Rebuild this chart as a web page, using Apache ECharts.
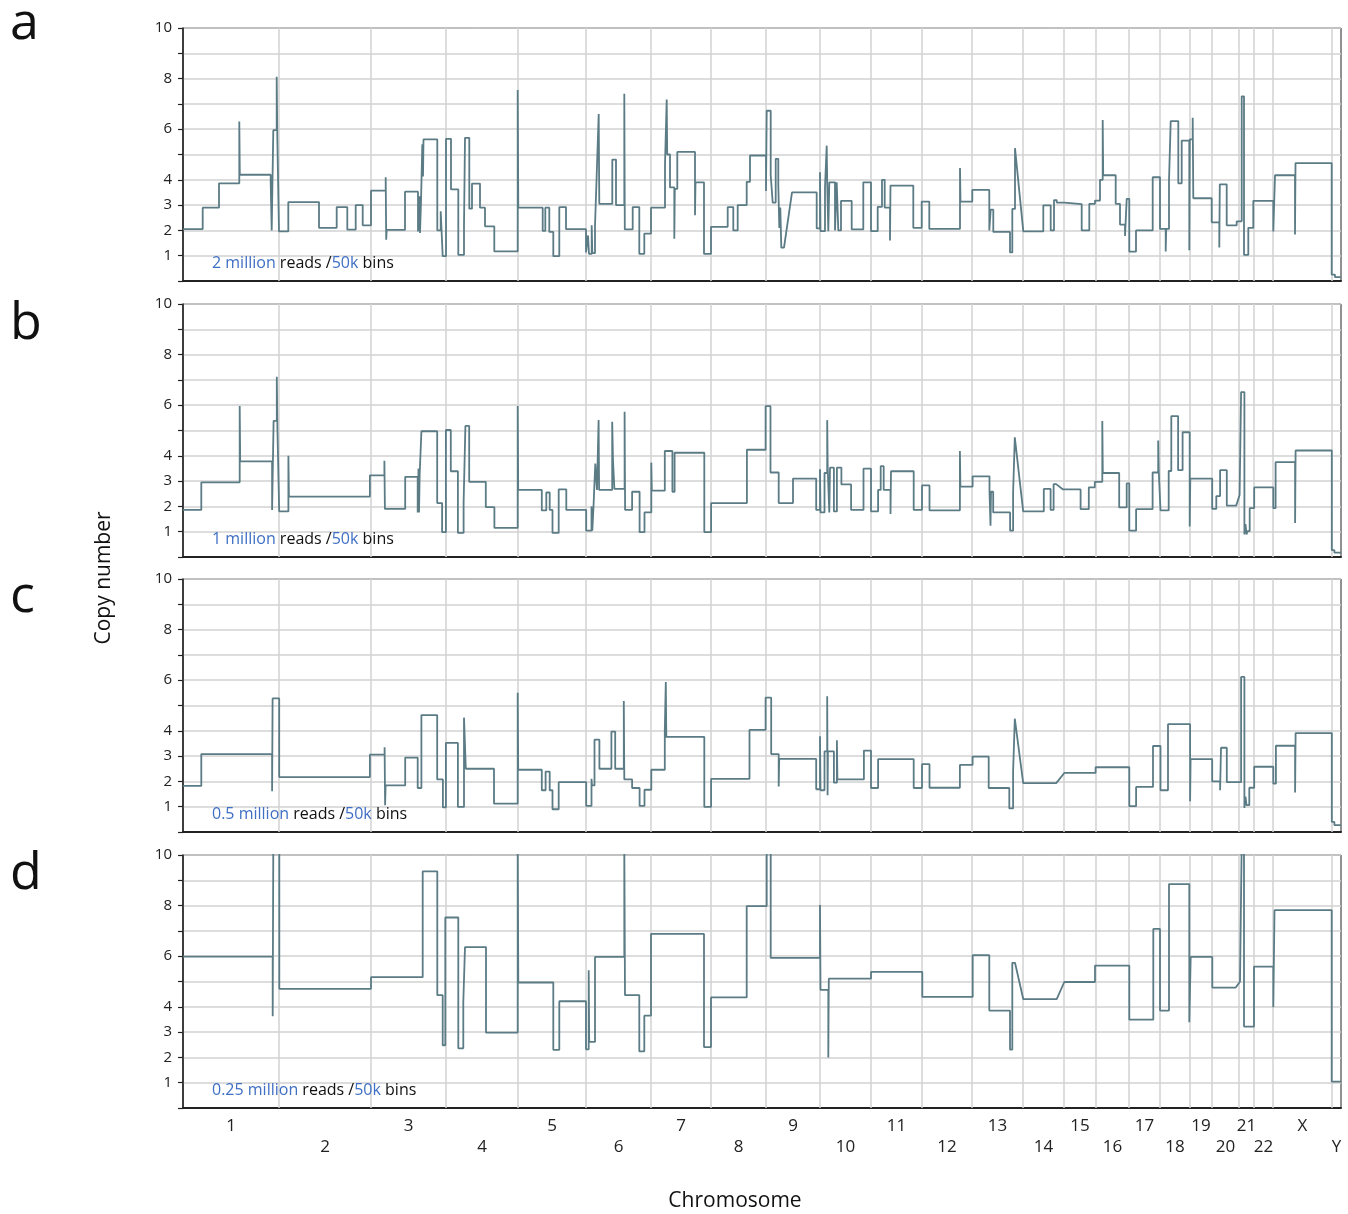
<!DOCTYPE html>
<html>
<head>
<meta charset="utf-8">
<script src="https://cdn.jsdelivr.net/npm/echarts@6/dist/echarts.min.js"></script>
<style>
  html, body { margin: 0; padding: 0; background: #fff; }
  #chart { width: 1348px; height: 1214px; }
</style>
</head>
<body>
<div id="chart"></div>
<script>
// chromosome layout (position units along the genome axis)
const chromNames = ["1","2","3","4","5","6","7","8","9","10","11","12","13","14","15","16","17","18","19","20","21","22","X","Y"];
const chromBounds = [0, 96, 188, 263, 335, 403, 468, 528, 583, 637, 688, 739, 789, 840, 881, 913, 946, 977, 1007, 1029, 1056, 1071, 1090, 1149, 1158];
const genomeEnd = 1158;

// y axis ticks that carry a label
const yLabelTicks = [1, 2, 3, 4, 6, 8, 10];

// panel annotations
const panelLetters = ["a", "b", "c", "d"];
const readDepths = ["2 million", "1 million", "0.5 million", "0.25 million"];
const binSize = "50k";

// segments: [start, end, copy number]
const segA = [
  [0, 19.7, 2.05], [19.7, 36, 2.9], [36, 56.3, 3.86], [56.3, 56.8, 6.3], [56.8, 87.7, 4.2], [87.7, 88.7, 3.86], [88.7, 90.3, 2.0], [90.3, 93.7, 5.96], [93.7, 94.3, 8.07], [94.3, 96, 5.7],
  [96, 105.3, 1.96], [105.3, 136, 3.12], [136, 153.7, 2.1], [153.7, 164.3, 2.92], [164.3, 172.7, 2.03], [172.7, 179.7, 3.0], [179.7, 188, 2.2],
  [188, 202.7, 3.57], [202.7, 203.2, 4.1], [203.2, 203.7, 1.63], [203.7, 222, 2.02], [222, 235, 3.53], [235, 236.5, 1.96], [236.5, 237, 3.35], [237, 238, 1.9], [238, 239.3, 3.1], [239.3, 240, 5.4], [240, 240.5, 4.13], [240.5, 254.3, 5.6], [254.3, 257.7, 2.0], [257.7, 259.7, 2.76], [259.7, 263, 0.98],
  [263, 268, 5.62], [268, 275.3, 3.62], [275.3, 281, 1.03], [281, 282, 2.2], [282, 286.3, 5.66], [286.3, 289, 2.86], [289, 297, 3.85], [297, 302, 2.9], [302, 311.3, 2.16], [311.3, 334.7, 1.17],
  [334.7, 335.3, 7.55], [335.3, 359.7, 2.9], [359.7, 362.3, 1.98], [362.3, 366.3, 2.9], [366.3, 370.3, 1.94], [370.3, 376.3, 0.98], [376.3, 383, 2.92], [383, 403, 2.05],
  [403, 405, 1.13], [405, 406, 1.8], [406, 408.7, 1.07], [408.7, 409.3, 2.2], [409.3, 412, 1.1], [412, 413.7, 2.17], [413.7, 415.7, 4.2], [415.7, 416.3, 6.6], [416.3, 429.3, 3.05], [429.3, 433, 4.8], [433, 441.3, 3.0], [441.3, 441.8, 7.4], [441.8, 449.7, 2.04], [449.7, 456.3, 2.92], [456.3, 461.3, 1.07], [461.3, 468, 1.87],
  [468, 482, 2.9], [482, 483.7, 4.6], [483.7, 484.2, 7.17], [484.2, 487, 5.0], [487, 491.3, 3.7], [491.3, 491.8, 1.67], [491.8, 494.3, 3.64], [494.3, 512, 5.1], [512, 512.5, 2.6], [512.5, 521, 3.9], [521, 528, 1.07],
  [528, 544.7, 2.14], [544.7, 550.3, 2.92], [550.3, 554.7, 2.0], [554.7, 563.7, 3.0], [563.7, 567, 3.92], [567, 583, 4.96],
  [583, 583.7, 3.56], [583.7, 587.7, 6.73], [587.7, 589.7, 4.18], [589.7, 592.7, 3.1], [592.7, 595.3, 4.83], [595.3, 596.3, 3.8], [596.3, 597.3, 2.1], [597.3, 598.3, 2.9], [598.3, 601, 1.32],
  [609, 633.7, 3.5], [633.7, 637, 2.08],
  [637, 637.5, 4.3], [637.5, 642, 1.97], [642, 643.7, 3.7], [643.7, 644.2, 5.35], [644.2, 645.3, 3.9], [645.3, 646.3, 1.97], [646.3, 652, 3.9], [652, 653.7, 2.0], [653.7, 655.3, 3.9], [655.3, 658, 2.0], [658, 668.7, 3.17], [668.7, 680.3, 2.04], [680.3, 688, 3.9],
  [688, 694.7, 1.97], [694.7, 699, 2.93], [699, 701.7, 4.0], [701.7, 707, 2.9], [707, 707.5, 1.6], [707.5, 730.3, 3.77], [730.3, 738.7, 2.1],
  [738.7, 746.3, 3.14], [746.3, 777, 2.06], [777, 777.5, 4.47], [777.5, 789.3, 3.14],
  [789.3, 806.3, 3.6], [806.3, 807.7, 2.0], [807.7, 810.3, 2.82], [810.3, 827, 1.94], [827, 829.3, 1.13], [829.3, 832, 2.85], [832, 833, 5.25],
  [840.3, 860.3, 1.96], [860.3, 867.7, 2.99], [867.7, 871, 2.0], [871, 873.7, 3.2], [873.7, 881.3, 3.1],
  [881.3, 898.7, 3.04], [898.7, 906.3, 2.0], [906.3, 912, 3.05],
  [912, 917, 3.18], [917, 919.7, 4.0], [919.7, 920.2, 6.36], [920.2, 932.7, 4.18], [932.7, 937, 3.05], [937, 942, 2.23], [942, 943.7, 1.78], [943.7, 946.3, 3.25],
  [946.3, 953, 1.16], [953, 969.7, 2.0], [969.7, 977, 4.1],
  [977, 982.7, 2.06], [982.7, 983.2, 1.17], [983.2, 986, 2.06], [986, 987.7, 3.95], [987.7, 995.3, 6.32], [995.3, 998.7, 3.86], [998.7, 1006.3, 5.55],
  [1006.3, 1006.8, 1.22], [1006.8, 1009.7, 5.6], [1009.7, 1010.3, 6.45], [1010.3, 1028.7, 3.27],
  [1028.7, 1036.3, 2.32], [1036.3, 1036.8, 1.32], [1036.8, 1043.7, 3.82], [1043.7, 1053.7, 2.2], [1053.7, 1058.7, 2.36],
  [1058.7, 1061, 7.3], [1061, 1065.3, 1.03], [1065.3, 1070.3, 2.1],
  [1070.3, 1090.3, 3.17],
  [1090.3, 1092, 1.96], [1092, 1112, 4.18], [1112, 1112.5, 1.84], [1112.5, 1148.7, 4.66],
  [1148.7, 1152, 0.25], [1152, 1158, 0.15]
];

const segB = [
  [0, 18.3, 1.86], [18.3, 56.7, 2.95], [56.7, 57.2, 5.97], [57.2, 89.1, 3.78], [89.1, 90.6, 1.86], [90.6, 93.8, 5.38], [93.8, 94.4, 7.12], [94.4, 96.2, 5.08],
  [96.2, 105.4, 1.8], [105.4, 105.9, 4.0], [105.9, 186.9, 2.39],
  [186.9, 201.4, 3.23], [201.4, 201.9, 3.8], [201.9, 222.2, 1.9], [222.2, 234.7, 3.17], [234.7, 235.5, 1.76], [235.5, 236, 3.5], [236, 236.7, 1.76], [236.7, 238.4, 3.3], [238.4, 254.2, 4.97], [254.2, 259.1, 2.13], [259.1, 262.9, 0.98],
  [262.9, 267.8, 5.02], [267.8, 274.9, 3.39], [274.9, 280.6, 0.95], [280.6, 282.4, 2.13], [282.4, 286.2, 5.18], [286.2, 302.8, 2.97], [302.8, 311.4, 1.97], [311.4, 334.7, 1.15],
  [334.7, 335.2, 5.97], [335.2, 358.8, 2.65], [358.8, 363.3, 1.84], [363.3, 366.7, 2.55], [366.7, 369.5, 1.86], [369.5, 375.7, 0.95], [375.7, 383.3, 2.67], [383.3, 403.2, 1.86],
  [403.2, 408.5, 1.04], [408.5, 409.3, 2.0], [409.3, 410.4, 1.04], [410.4, 412.3, 1.9], [412.3, 414, 3.69], [414, 415.6, 2.65], [415.6, 416.1, 5.41], [416.1, 429.2, 2.65], [429.2, 430, 5.35], [430, 431.4, 3.82], [431.4, 441.6, 2.69], [441.6, 442.1, 5.74], [442.1, 449.1, 1.86], [449.1, 456.6, 2.58], [456.6, 461.5, 0.98], [461.5, 468.3, 1.76],
  [468.3, 468.8, 3.73], [468.8, 481.8, 2.62], [481.8, 489.4, 4.19], [489.4, 491.6, 2.58], [491.6, 521.3, 4.12], [521.3, 528.1, 0.98],
  [528.1, 563.9, 2.13], [563.9, 582.6, 4.24],
  [582.6, 587.5, 5.96], [587.5, 595.7, 3.34], [595.7, 610, 2.13], [610, 633.2, 3.1], [633.2, 637, 1.86],
  [637, 637.5, 3.47], [637.5, 641.5, 1.76], [641.5, 644.2, 3.32], [644.2, 644.7, 5.41], [644.7, 646.3, 3.53], [646.3, 647, 1.76], [647, 650.9, 3.53], [650.9, 653.9, 1.8], [653.9, 658.4, 3.53], [658.4, 668.1, 2.87], [668.1, 680.5, 1.86], [680.5, 688, 3.49],
  [688, 695.1, 1.8], [695.1, 697.7, 2.65], [697.7, 700.7, 3.59], [700.7, 707.5, 2.65], [707.5, 708, 1.7], [708, 730.7, 3.39], [730.7, 739, 1.86],
  [739, 746.5, 2.83], [746.5, 776.9, 1.84], [776.9, 777.4, 4.19], [777.4, 789.6, 2.78],
  [789.6, 806.5, 3.19], [806.5, 807.5, 2.58], [807.5, 808, 1.24], [808, 810.2, 2.58], [810.2, 827.1, 1.76], [827.1, 830.1, 1.04], [830.1, 831.8, 2.55], [831.8, 832.7, 4.73],
  [840.2, 860.8, 1.8], [860.8, 867.6, 2.69], [867.6, 870.6, 1.86], [870.6, 873.2, 2.88],
  [880, 897.6, 2.67], [897.6, 905.8, 1.89], [905.8, 911.8, 2.75],
  [911.8, 919.3, 2.97], [919.3, 919.8, 5.38], [919.8, 936.2, 3.32], [936.2, 943.7, 1.96], [943.7, 946.3, 2.91],
  [946.3, 953.1, 1.04], [953.1, 969.6, 1.89], [969.6, 975.2, 3.34], [975.2, 975.7, 4.6], [975.7, 977.5, 3.45],
  [977.5, 985.7, 1.84], [985.7, 988.3, 3.4], [988.3, 995.1, 5.57], [995.1, 999.6, 3.43], [999.6, 1006.7, 4.93],
  [1006.7, 1007.3, 1.21], [1007.3, 1029.2, 3.1],
  [1029.2, 1033.3, 1.9], [1033.3, 1037.1, 2.41], [1037.1, 1043.8, 3.43], [1043.8, 1053.2, 2.03],
  [1056.6, 1058.1, 2.45], [1058.1, 1061.4, 6.52], [1061.4, 1062.5, 0.89], [1062.5, 1063.5, 1.3], [1063.5, 1064.5, 0.89], [1064.5, 1066.7, 1.02], [1066.7, 1071.2, 1.93],
  [1071.2, 1090.3, 2.75],
  [1090.3, 1092.6, 1.93], [1092.6, 1112.1, 3.75], [1112.1, 1112.6, 1.34], [1112.6, 1148.8, 4.21],
  [1148.8, 1151.4, 0.27], [1151.4, 1158, 0.17]
];

const segC = [
  [0, 18.3, 1.82], [18.3, 89.1, 3.08], [89.1, 89.6, 1.61], [89.6, 96.2, 5.28],
  [96.2, 186.9, 2.17],
  [186.9, 201.6, 3.06], [201.6, 202.1, 3.35], [202.1, 202.6, 1.06], [202.6, 222.2, 1.84], [222.2, 234.7, 2.94], [234.7, 238.4, 1.74], [238.4, 254.2, 4.62], [254.2, 259.9, 2.08], [259.9, 262.9, 0.97],
  [262.9, 274.9, 3.52], [274.9, 281, 0.99], [281, 282.8, 4.52], [282.8, 311, 2.5], [311, 334.7, 1.12],
  [334.7, 335.2, 5.5], [335.2, 358.8, 2.46], [358.8, 362.6, 1.65], [362.6, 366.7, 2.39], [366.7, 369.5, 1.65], [369.5, 375.7, 0.9], [375.7, 403.2, 1.97],
  [403.2, 408.5, 1.03], [408.5, 409, 2.1], [409, 411.5, 1.84], [411.5, 416.4, 3.65], [416.4, 428.4, 2.5], [428.4, 432.2, 3.97], [432.2, 440.8, 2.5], [440.8, 441.3, 5.18], [441.3, 449.1, 2.08], [449.1, 456.6, 1.74], [456.6, 461.5, 1.03], [461.5, 468.3, 1.67],
  [468.3, 481.8, 2.46], [481.8, 482.8, 4.04], [482.8, 483.3, 5.93], [483.3, 521.3, 3.76], [521.3, 528.1, 0.99],
  [528.1, 566.5, 2.1], [566.5, 582.6, 4.04],
  [582.6, 588.2, 5.31], [588.2, 595.7, 3.08], [595.7, 596.2, 1.8], [596.2, 633.2, 2.89], [633.2, 637, 1.69],
  [637, 637.5, 3.78], [637.5, 641.5, 1.65], [641.5, 644.2, 3.19], [644.2, 644.6, 5.37], [644.6, 644.9, 1.45], [644.9, 650.9, 3.19], [650.9, 653.9, 1.95], [653.9, 654.4, 3.63], [654.4, 680.9, 2.08], [680.9, 688, 3.22],
  [688, 695.1, 1.74], [695.1, 730.7, 2.88], [730.7, 739, 1.74],
  [739, 746.5, 2.68], [746.5, 776.9, 1.75], [776.9, 789.6, 2.65],
  [789.6, 805.7, 2.98], [805.7, 826.3, 1.74], [826.3, 830.1, 0.93], [830.1, 831.8, 2.39], [831.8, 832.3, 4.48],
  [840.2, 873.2, 1.93],
  [881.5, 912.6, 2.34],
  [912.6, 946.3, 2.56],
  [946.3, 953.1, 1.02], [953.1, 970, 1.78], [970, 977.5, 3.4],
  [977.5, 985, 1.65], [985, 1007.1, 4.26],
  [1007.1, 1007.6, 1.22], [1007.6, 1029.2, 2.88],
  [1029.2, 1037.1, 2.0], [1037.1, 1038, 1.65], [1038, 1043.8, 3.33], [1043.8, 1058.1, 1.97],
  [1058.1, 1061.4, 6.13], [1061.4, 1062.5, 0.95], [1062.5, 1063.5, 1.4], [1063.5, 1066.3, 1.06], [1066.3, 1071.2, 1.75],
  [1071.2, 1090.3, 2.58],
  [1090.3, 1092.9, 1.91], [1092.9, 1112.1, 3.41], [1112.1, 1112.6, 1.56], [1112.6, 1148.8, 3.91],
  [1148.8, 1151.4, 0.4], [1151.4, 1158, 0.27]
];

const segD = [
  [0, 89.7, 5.98], [89.7, 90.3, 3.63], [90.3, 96.3, 10.5],
  [96.3, 188, 4.71],
  [188, 239.7, 5.17], [239.7, 254.3, 9.35], [254.3, 259.7, 4.46], [259.7, 262.3, 2.48],
  [262.3, 275.3, 7.53], [275.3, 280.3, 2.36], [280.3, 282, 4.19], [282, 303, 6.36], [303, 334.7, 2.98],
  [334.7, 335.3, 10.5], [335.3, 370.3, 4.96], [370.3, 376.3, 2.3], [376.3, 403, 4.22],
  [403, 405.7, 2.32], [405.7, 406.2, 5.44], [406.2, 412, 2.61], [412, 441.3, 5.97], [441.3, 442, 10.5], [442, 456.3, 4.46], [456.3, 461.3, 2.24], [461.3, 468, 3.65],
  [468, 521, 6.88], [521, 528, 2.41],
  [528, 563.7, 4.37], [563.7, 583.7, 7.98], [583.7, 587.7, 10.5],
  [587.7, 637, 5.93],
  [637, 637.5, 8.02], [637.5, 645.3, 4.67], [645.3, 645.8, 2.0], [645.8, 688, 5.11],
  [688, 739.3, 5.38],
  [739.3, 789.7, 4.39],
  [789.7, 806.3, 6.04], [806.3, 827, 3.85], [827, 829.3, 2.31], [829.3, 832, 5.74],
  [840.3, 873.7, 4.3],
  [881.3, 912, 4.98],
  [912, 946.3, 5.63],
  [946.3, 970.3, 3.49], [970.3, 977, 7.08],
  [977, 986, 3.85], [986, 1006.3, 8.85],
  [1006.3, 1007.7, 3.39], [1007.7, 1029.3, 5.97],
  [1029.3, 1052.7, 4.76],
  [1057, 1058.7, 4.99], [1058.7, 1061, 10.5], [1061, 1071, 3.22],
  [1071, 1090.3, 5.59],
  [1090.3, 1091.5, 3.98], [1091.5, 1148.7, 7.82],
  [1148.7, 1158, 1.04]
];

const panelSegments = [segA, segB, segC, segD];

// ---- layout ----
const panelTops = [28, 304, 579, 855];
const letterCenters = [25, 325, 598, 875];
const panelHeight = 253;
const gridLeft = 183;
const gridWidth = 1158;
const lineColor = "#5b7b85";
const gridColor = "#d2d2d2";
const blue = "#3f6fc4";
const font = "Open Sans";

function toPoints(segs) {
  const pts = [];
  segs.forEach(([s, e, v]) => {
    pts.push([s, v]);
    pts.push([e, v]);
  });
  return pts;
}

const chromCenters = chromNames.map((n, i) => (chromBounds[i] + chromBounds[i + 1]) / 2);
const innerBounds = chromBounds.slice(1, -1);

const chart = echarts.init(document.getElementById("chart"), null, { renderer: "canvas" });

const grids = [], xAxes = [], yAxes = [], series = [], titles = [];

panelTops.forEach((top, i) => {
  grids.push({
    left: gridLeft, top: top, width: gridWidth, height: panelHeight,
    show: true, borderColor: "#222", borderWidth: 1, backgroundColor: "transparent"
  });
  const isLast = i === panelTops.length - 1;
  xAxes.push({
    type: "value", gridIndex: i, min: 0, max: genomeEnd,
    axisLine: { show: true, onZero: false, lineStyle: { color: "#222", width: 2 } },
    axisTick: { show: false },
    splitLine: { show: false },
    axisLabel: isLast ? {
      show: true,
      customValues: chromCenters,
      margin: 8,
      fontFamily: font, fontSize: 17, color: "#222", lineHeight: 21,
      formatter: (val) => {
        const idx = chromCenters.findIndex(c => Math.abs(c - val) < 0.01);
        if (idx < 0) return "";
        return idx % 2 === 0 ? chromNames[idx] : "\n" + chromNames[idx];
      }
    } : { show: false }
  });
  yAxes.push({
    type: "value", gridIndex: i, min: 0, max: 10, interval: 1,
    axisLine: { show: true, lineStyle: { color: "#222", width: 1.5 } },
    axisTick: { show: true, length: 5, lineStyle: { color: "#222", width: 1.2 } },
    splitLine: { show: true, lineStyle: { color: gridColor, width: 1.5 } },
    axisLabel: {
      margin: 11, fontFamily: font, fontSize: 15, color: "#222",
      formatter: (v) => (yLabelTicks.indexOf(v) >= 0 ? String(v) : "")
    }
  });
  // chromosome boundary grid lines
  series.push({
    type: "line", xAxisIndex: i, yAxisIndex: i, data: [], silent: true,
    markLine: {
      silent: true, symbol: ["none", "none"], z: 1, animation: false,
      label: { show: false },
      lineStyle: { color: gridColor, width: 1.5, type: "solid" },
      data: innerBounds.map(b => ({ xAxis: b }))
    }
  });
  series.push({
    type: "line", xAxisIndex: i, yAxisIndex: i, z: 3,
    showSymbol: false, symbol: "none", clip: true, animation: false,
    lineStyle: { color: lineColor, width: 1.8 },
    data: toPoints(panelSegments[i])
  });
  titles.push({
    text: panelLetters[i], left: 10, top: letterCenters[i] - 27, padding: 0,
    textStyle: { fontFamily: font, fontSize: 52, fontWeight: "normal", color: "#111" }
  });
  titles.push({
    text: "{b|" + readDepths[i] + "} reads /{b|" + binSize + "} bins",
    left: 212, top: top + 227, padding: 0,
    textStyle: {
      fontFamily: font, fontSize: 16, fontWeight: "normal", color: "#111",
      rich: { b: { fontFamily: font, fontSize: 16, fontWeight: "normal", color: blue } }
    }
  });
});

titles.push({
  text: "Chromosome", left: 735, top: 1191, padding: 0, textAlign: "center",
  textStyle: { fontFamily: font, fontSize: 21, fontWeight: "normal", color: "#111" }
});

chart.setOption({
  animation: false,
  backgroundColor: "#fff",
  title: titles,
  grid: grids,
  xAxis: xAxes,
  yAxis: yAxes,
  series: series,
  graphic: [{
    type: "text", x: 104, y: 578, rotation: Math.PI / 2,
    style: {
      text: "Copy number", fontFamily: font, fontSize: 21, fill: "#111",
      align: "center", verticalAlign: "middle"
    }
  }]
});
</script>
</body>
</html>
